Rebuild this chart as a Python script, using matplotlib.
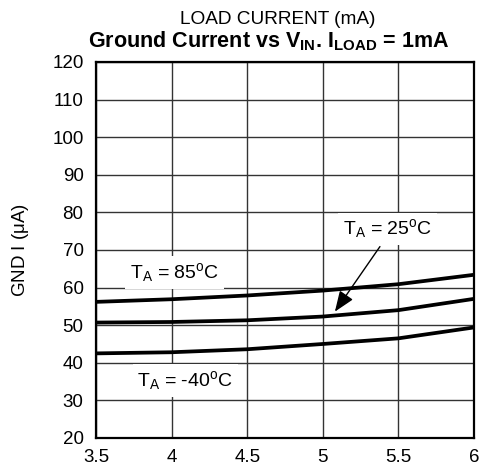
import matplotlib
matplotlib.use('Agg')
from matplotlib import pyplot as plt

plt.rcParams['font.family'] = ['Liberation Sans', 'DejaVu Sans']
plt.rcParams['mathtext.fontset'] = 'custom'
plt.rcParams['mathtext.rm'] = 'Liberation Sans'
plt.rcParams['mathtext.it'] = 'Liberation Sans'
plt.rcParams['mathtext.bf'] = 'Liberation Sans:bold'

# input voltage (V)
vin = [3.5, 4.0, 4.5, 5.0, 5.5, 6.0]
# ground current (uA) per temperature
gnd_85 = [56.2, 56.9, 57.9, 59.2, 60.9, 63.4]
gnd_25 = [50.7, 50.85, 51.3, 52.3, 54.0, 57.0]
gnd_m40 = [42.5, 42.8, 43.6, 45.0, 46.5, 49.4]

xticks = [3.5, 4, 4.5, 5, 5.5, 6]
yticks = list(range(20, 121, 10))

fig = plt.figure(figsize=(4.81, 4.71), dpi=100)
ax = fig.add_axes([0.1996, 0.0701, 0.7858, 0.7983])

for g in (gnd_85, gnd_25, gnd_m40):
    ax.plot(vin, g, c='black', lw=2.7, zorder=3, solid_capstyle='butt')

ax.set_xlim(3.5, 6)
ax.set_ylim(20, 120)
ax.set_xticks(xticks)
ax.set_xticklabels(['3.5', '4', '4.5', '5', '5.5', '6'])
ax.set_yticks(yticks)
ax.grid(True, color='#333333', lw=1.0)
ax.tick_params(length=0, labelsize=13.5)
ax.tick_params(axis='x', pad=8)
ax.tick_params(axis='y', pad=9)
for s in ax.spines.values():
    s.set_linewidth(1.6)

box = dict(facecolor='white', edgecolor='none', pad=3.5)
fs = 14
ax.text(4.02, 64.0, r'T$_{\mathrm{A}}$ = 85$^{\mathrm{o}}$C', fontsize=fs,
        ha='center', va='center', bbox=box, zorder=4)
ax.text(4.09, 35.3, r'T$_{\mathrm{A}}$ = -40$^{\mathrm{o}}$C', fontsize=fs,
        ha='center', va='center', bbox=box, zorder=4)
ax.text(5.43, 75.6, r'T$_{\mathrm{A}}$ = 25$^{\mathrm{o}}$C', fontsize=fs,
        ha='center', va='center', bbox=box, zorder=4)
ax.annotate('', xy=(5.08, 53.6), xytext=(5.378, 70.9),
            arrowprops=dict(arrowstyle='-|>,head_length=0.9,head_width=0.35',
                            color='black', lw=1.0,
                            mutation_scale=14, shrinkA=0, shrinkB=0), zorder=4)

ax.set_ylabel(r'GND I ($\mu$A)', fontsize=13.5)
ax.yaxis.set_label_coords(-0.172, 0.5)
fig.text(0.559, 0.913, r'Ground Current vs V$_{\mathbf{IN}}$. I$_{\mathbf{LOAD}}$ = 1mA',
         fontsize=15.5, fontweight='bold', ha='center', va='center')
fig.text(0.578, 0.958, 'LOAD CURRENT (mA)', fontsize=13.7, ha='center', va='center')

fig.savefig('out.png', dpi=100)
